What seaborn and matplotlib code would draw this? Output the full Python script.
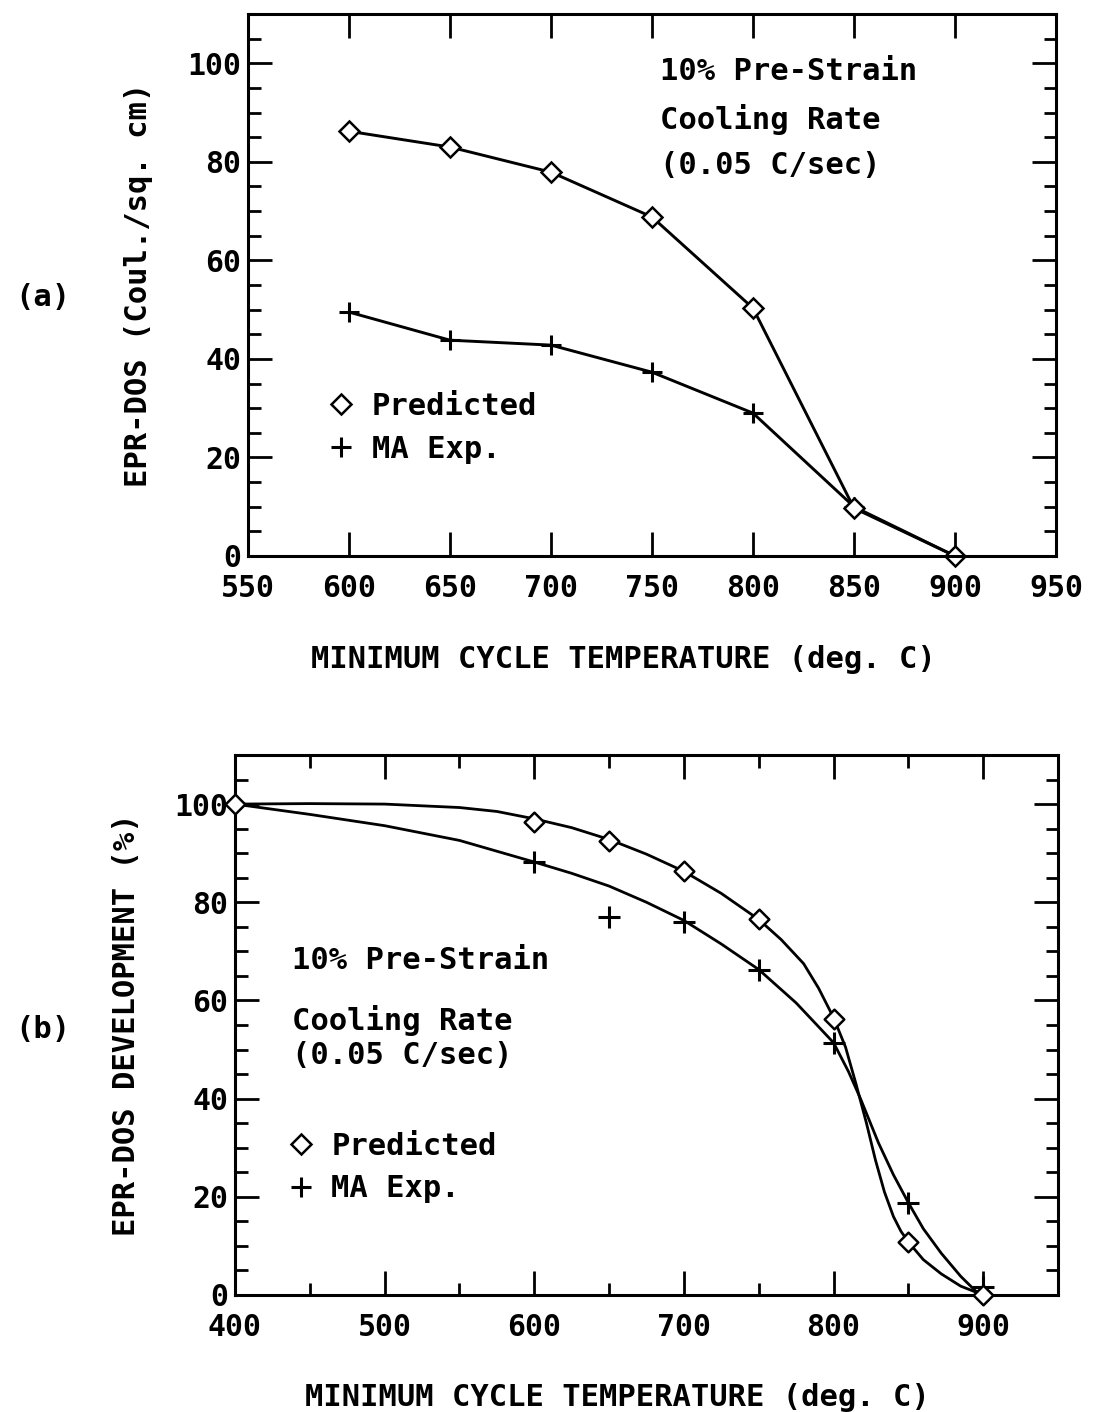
import matplotlib
matplotlib.use("Agg")
import matplotlib.pyplot as plt
from matplotlib.lines import Line2D
from matplotlib.ticker import MultipleLocator
import seaborn as sns
import pandas as pd

# ---------------- data ----------------
# panel (a)
temp_a = [600, 650, 700, 750, 800, 850, 900]
pred_a = [86.2, 83.0, 77.9, 68.8, 50.3, 9.7, 0.0]
exp_a = [49.5, 43.8, 42.8, 37.3, 29.0, 10.0, 0.0]

# panel (b) measured / predicted points
temp_b = [400, 600, 650, 700, 750, 800, 850, 900]
pred_b = [100.0, 96.3, 92.4, 86.3, 76.5, 56.3, 10.8, 0.0]
exp_b = [100.0, 88.2, 77.1, 75.9, 66.3, 51.4, 18.8, 1.6]

# panel (b) fitted curves
pred_fit_t = [400, 450, 500, 550, 575, 600, 625, 650, 675, 700, 725, 750, 765, 780,
              790, 800, 808, 815, 822, 828, 834, 840, 845, 850, 860, 872, 885, 900]
pred_fit_v = [100, 100.1, 100, 99.3, 98.5, 97.0, 95.2, 92.8, 89.8, 86.3, 81.8, 76.5,
              72.4, 67.5, 62.5, 56.5, 50.5, 43, 35, 27.5, 21, 16, 13, 10.8, 7.2,
              4.3, 1.8, 0]
exp_fit_t = [400, 450, 500, 550, 600, 625, 650, 675, 700, 725, 750, 775, 800, 810,
             818, 830, 840, 850, 860, 872, 885, 895, 900]
exp_fit_v = [100, 97.9, 95.6, 92.6, 88.2, 85.9, 83.3, 80, 76.3, 71.5, 66.3, 59.5,
             51.4, 45.5, 40, 31, 24.5, 18.8, 13.5, 8.5, 3.8, 0.8, 0.3]

xticks_a = [550, 600, 650, 700, 750, 800, 850, 900, 950]
xticks_b = [400, 500, 600, 700, 800, 900]
yticks = [0, 20, 40, 60, 80, 100]

note_lines = ["10% Pre-Strain", "Cooling Rate", "(0.05 C/sec)"]
leg_labels = ["Predicted", "MA Exp."]

# ---------------- style ----------------
sns.set_theme(style="white")
plt.rcParams['font.family'] = ['DejaVu Sans Mono', 'DejaVu Sans']
plt.rcParams['font.weight'] = 'bold'
plt.rcParams['axes.labelweight'] = 'bold'
plt.rcParams['axes.linewidth'] = 2.2
plt.rcParams['text.color'] = 'black'
plt.rcParams['axes.labelcolor'] = 'black'
plt.rcParams['xtick.color'] = 'black'
plt.rcParams['ytick.color'] = 'black'
plt.rcParams['axes.edgecolor'] = 'black'

FS_TICK = 21.5
FS_LAB = 22
FS_NOTE = 22

fig = plt.figure(figsize=(11, 14.12), dpi=100)
fig.patch.set_facecolor('white')
ax_a = fig.add_axes([248/1100, 1-556/1412, 808/1100, 542/1412])
ax_b = fig.add_axes([235/1100, 1-1295/1412, 823/1100, 540/1412])

dmark = dict(marker='D', markersize=10, markerfacecolor='white',
             markeredgecolor='black', markeredgewidth=1.8)
pmark = dict(marker='+', markersize=15, markeredgecolor='black',
             markeredgewidth=2.2)

# ---------------- panel (a) ----------------
df_a = pd.DataFrame({"t": temp_a, "pred": pred_a, "exp": exp_a})
sns.lineplot(data=df_a, x="t", y="exp", ax=ax_a, color='black', lw=2.1,
             clip_on=False, **pmark)
sns.lineplot(data=df_a, x="t", y="pred", ax=ax_a, color='black', lw=2.1,
             clip_on=False, **dmark)

ax_a.set_xlim(550, 950)
ax_a.set_ylim(0, 110)
ax_a.set_xticks(xticks_a)
ax_a.set_yticks(yticks)
ax_a.yaxis.set_minor_locator(MultipleLocator(5))
ax_a.set_xlabel("MINIMUM CYCLE TEMPERATURE (deg. C)", fontsize=FS_LAB)
ax_a.set_ylabel("EPR-DOS (Coul./sq. cm)", fontsize=FS_LAB)
ax_a.xaxis.set_label_coords(0.465, -0.165)
ax_a.yaxis.set_label_coords(-0.118, 0.5)

for i, s in enumerate(note_lines):
    ax_a.text(0.51, [0.893, 0.806, 0.72][i], s, transform=ax_a.transAxes,
              fontsize=FS_NOTE, va='center', ha='left')

# ---------------- panel (b) ----------------
df_b = pd.DataFrame({"t": temp_b, "pred": pred_b, "exp": exp_b})
df_pf = pd.DataFrame({"t": pred_fit_t, "v": pred_fit_v})
df_ef = pd.DataFrame({"t": exp_fit_t, "v": exp_fit_v})
sns.lineplot(data=df_pf, x="t", y="v", ax=ax_b, color='black', lw=2.0, clip_on=False)
sns.lineplot(data=df_ef, x="t", y="v", ax=ax_b, color='black', lw=2.0, clip_on=False)
sns.scatterplot(data=df_b, x="t", y="exp", ax=ax_b, marker='+', s=230,
                color='black', linewidth=2.2, clip_on=False, zorder=4)
sns.scatterplot(data=df_b, x="t", y="pred", ax=ax_b, marker='D', s=100,
                facecolor='white', edgecolor='black', linewidth=1.8,
                clip_on=False, zorder=5)

ax_b.set_xlim(400, 950)
ax_b.set_ylim(0, 110)
ax_b.set_xticks(xticks_b)
ax_b.xaxis.set_minor_locator(MultipleLocator(50))
ax_b.set_yticks(yticks)
ax_b.yaxis.set_minor_locator(MultipleLocator(5))
ax_b.set_xlabel("MINIMUM CYCLE TEMPERATURE (deg. C)", fontsize=FS_LAB)
ax_b.set_ylabel("EPR-DOS DEVELOPMENT (%)", fontsize=FS_LAB)
ax_b.xaxis.set_label_coords(0.465, -0.163)
ax_b.yaxis.set_label_coords(-0.114, 0.5)

for i, s in enumerate(note_lines):
    ax_b.text(0.069, [0.62, 0.509, 0.444][i], s, transform=ax_b.transAxes,
              fontsize=FS_NOTE, va='center', ha='left')

# ---------------- common styling ----------------
for ax, loc in ((ax_a, (0.085, 0.325)), (ax_b, (0.05, 0.325))):
    ax.set_facecolor('white')
    for sp in ax.spines.values():
        sp.set_visible(True)
        sp.set_color('black')
        sp.set_linewidth(2.2)
    ax.tick_params(axis='both', which='both', direction='in', top=True,
                   right=True, bottom=True, left=True, colors='black',
                   labelsize=FS_TICK)
    ax.tick_params(axis='both', which='major', length=17, width=2.0)
    ax.tick_params(axis='both', which='minor', length=9, width=2.0)
    ax.tick_params(axis='x', which='major', pad=13)
    ax.tick_params(axis='y', which='major', pad=5)
    ax.grid(False)
    handles = [Line2D([], [], ls='none', **dmark),
               Line2D([], [], ls='none', **pmark)]
    leg = ax.legend(handles, leg_labels, loc='upper left', bbox_to_anchor=loc,
                    frameon=False, fontsize=FS_NOTE, handlelength=0.8,
                    handletextpad=0.6, labelspacing=0.45, borderaxespad=0)
    for t in leg.get_texts():
        t.set_fontweight('bold')

fig.text(15/1100, 1-297/1412, "(a)", fontsize=FS_LAB, va='center', ha='left')
fig.text(15/1100, 1-1030/1412, "(b)", fontsize=FS_LAB, va='center', ha='left')

fig.savefig("out.png", dpi=100, facecolor='white')
